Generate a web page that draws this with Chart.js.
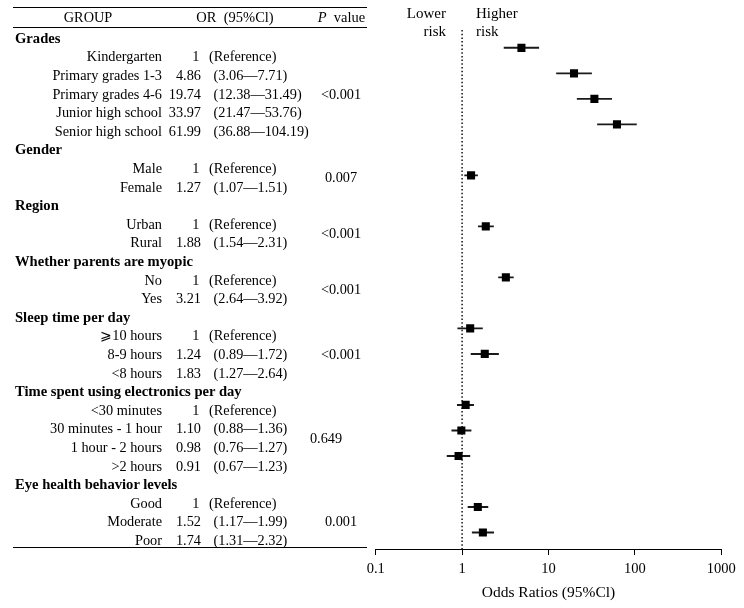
<!DOCTYPE html>
<html>
<head>
<meta charset="utf-8">
<script src="https://cdn.jsdelivr.net/npm/chart.js@4.4.0/dist/chart.umd.min.js"></script>
<style>
  html, body { margin: 0; background: #fff; }
  #wrap { position: relative; width: 744px; height: 608px; overflow: hidden;
          font-family: "Liberation Serif", "Times New Roman", serif; font-size: 14.3px; color: #000; }
  #chart { position: absolute; left: 0; top: 0; }
  .t { position: absolute; white-space: nowrap; line-height: 16px; }
  .b { font-weight: bold; font-size: 14.6px; }
  .h { font-size: 14.5px; }
  .r { font-size: 15px; }
  .rule { position: absolute; left: 13px; width: 354px; height: 1px; background: #000; }
</style>
</head>
<body>
<div id="wrap"><canvas id="chart" width="744" height="608"></canvas></div>
<script>
// data
const groups = ['Grades', 'Gender', 'Region', 'Whether parents are myopic', 'Sleep time per day',
  'Time spent using electronics per day', 'Eye health behavior levels'];
const levels = [
  ['Kindergarten', 'Primary grades 1-3', 'Primary grades 4-6', 'Junior high school', 'Senior high school'],
  ['Male', 'Female'],
  ['Urban', 'Rural'],
  ['No', 'Yes'],
  ['\u2A7E10 hours', '8-9 hours', '<8 hours'],
  ['<30 minutes', '30 minutes - 1 hour', '1 hour - 2 hours', '>2 hours'],
  ['Good', 'Moderate', 'Poor']
];
const oddsRatios = [[1, 4.86, 19.74, 33.97, 61.99], [1, 1.27], [1, 1.88], [1, 3.21], [1, 1.24, 1.83], [1, 1.10, 0.98, 0.91], [1, 1.52, 1.74]];
const ciLow = [[null, 3.06, 12.38, 21.47, 36.88], [null, 1.07], [null, 1.54], [null, 2.64], [null, 0.89, 1.27], [null, 0.88, 0.76, 0.67], [null, 1.17, 1.31]];
const ciHigh = [[null, 7.71, 31.49, 53.76, 104.19], [null, 1.51], [null, 2.31], [null, 3.92], [null, 1.72, 2.64], [null, 1.36, 1.27, 1.23], [null, 1.99, 2.32]];
const pValues = ['<0.001', '0.007', '<0.001', '<0.001', '<0.001', '0.649', '0.001'];
const tickValues = [0.1, 1, 10, 100, 1000];
const tickLabels = ['0.1', '1', '10', '100', '1000'];

// ---- left hand table (html text) ----
const wrap = document.getElementById('wrap');
const ROW0 = 37.7, ROW_H = 18.6, W = 744;

function text(str, x, y, align, cls) {
  const el = document.createElement('div');
  el.className = 't' + (cls ? ' ' + cls : '');
  el.textContent = str;
  el.style.top = (y - 8) + 'px';
  if (align === 'right') el.style.right = (W - x) + 'px';
  else if (align === 'center') { el.style.left = x + 'px'; el.style.transform = 'translateX(-50%)'; }
  else el.style.left = x + 'px';
  wrap.appendChild(el);
  return el;
}
function rule(y) {
  const el = document.createElement('div');
  el.className = 'rule';
  el.style.top = y + 'px';
  wrap.appendChild(el);
}

rule(7);
rule(26.5);
text('GROUP', 88, 17.3, 'center');
text('OR\u00a0\u00a0(95%Cl)', 235, 17.3, 'center', 'h');
text('', 341.5, 17.3, 'center', 'h').innerHTML = '<i>P</i>\u00a0 value';

let k = 0;
groups.forEach((g, gi) => {
  text(g, 15, ROW0 + ROW_H * k, 'left', 'b');
  k++;
  const first = k;
  levels[gi].forEach((lv, li) => {
    const y = ROW0 + ROW_H * k;
    text(lv, 162, y, 'right');
    const lo = ciLow[gi][li];
    if (lo === null) {
      text(String(oddsRatios[gi][li]), 199.5, y, 'right');
      text('(Reference)', 209, y, 'left');
    } else {
      text(oddsRatios[gi][li].toFixed(2), 201, y, 'right');
      text('(' + lo.toFixed(2) + '\u2014' + ciHigh[gi][li].toFixed(2) + ')', 213.5, y, 'left');
    }
    k++;
  });
  const mid = ROW0 + ROW_H * (first + k - 1) / 2;
  text(pValues[gi], gi === 5 ? 326 : 341, mid, 'center');
});
rule(546.5);

text('Lower', 446, 13.3, 'right', 'r');
text('risk', 446, 30.7, 'right', 'r');
text('Higher', 476, 13.3, 'left', 'r');
text('risk', 476, 30.7, 'left', 'r');

// ---- forest plot rows: non-reference levels, one blank row between groups ----
const points = [];
const intervals = [];
let row = 0;
groups.forEach((g, gi) => {
  levels[gi].forEach((lv, li) => {
    if (ciLow[gi][li] === null) return;
    points.push({ x: oddsRatios[gi][li], y: row });
    intervals.push({ x: [ciLow[gi][li], ciHigh[gi][li]], y: row });
    row++;
  });
  row++;
});

const refLine = {
  id: 'refLine',
  beforeDatasetsDraw(chart) {
    const { ctx, chartArea, scales: { x } } = chart;
    const px = x.getPixelForValue(1);
    ctx.save();
    ctx.strokeStyle = '#222';
    ctx.lineWidth = 1.6;
    ctx.setLineDash([1.5, 2.2]);
    ctx.beginPath();
    ctx.moveTo(px, chartArea.top);
    ctx.lineTo(px, chartArea.bottom);
    ctx.stroke();
    ctx.restore();
  }
};

const serif = '"Liberation Serif", "Times New Roman", serif';

new Chart(document.getElementById('chart'), {
  type: 'scatter',
  data: {
    datasets: [
      { type: 'scatter', data: points, pointStyle: 'rect', pointRadius: 5.7, pointHoverRadius: 5.7,
        backgroundColor: '#000', borderWidth: 0 },
      { type: 'bar', indexAxis: 'y', data: intervals, barThickness: 1.3, backgroundColor: '#1a1a1a',
        borderWidth: 0, borderSkipped: false }
    ]
  },
  options: {
    responsive: false,
    animation: false,
    events: [],
    layout: { padding: { left: 375.7, right: 22.7, top: 30, bottom: 0 } },
    plugins: { legend: { display: false }, tooltip: { enabled: false } },
    scales: {
      x: {
        type: 'logarithmic', min: 0.1, max: 1000, offset: false, beginAtZero: false,
        afterBuildTicks: s => { s.ticks = tickValues.map(v => ({ value: v, major: true })); },
        afterFit: s => { s.height = 59; },
        ticks: { callback: (v, i) => tickLabels[i], color: '#000', autoSkip: false, maxRotation: 0,
                 padding: 5, font: { family: serif, size: 14.5 } },
        grid: { drawOnChartArea: false, color: '#000', tickLength: 6, lineWidth: 1 },
        border: { display: true, color: '#000', width: 1 },
        title: { display: true, text: 'Odds Ratios (95%Cl)', color: '#000',
                 font: { family: serif, size: 15.5 }, padding: { top: 4, bottom: 6 } }
      },
      y: {
        type: 'linear', display: false, offset: false, beginAtZero: false,
        min: -0.7, max: 19.65, reverse: true,
        grid: { display: false }
      }
    }
  },
  plugins: [refLine]
});
</script>
</body>
</html>
